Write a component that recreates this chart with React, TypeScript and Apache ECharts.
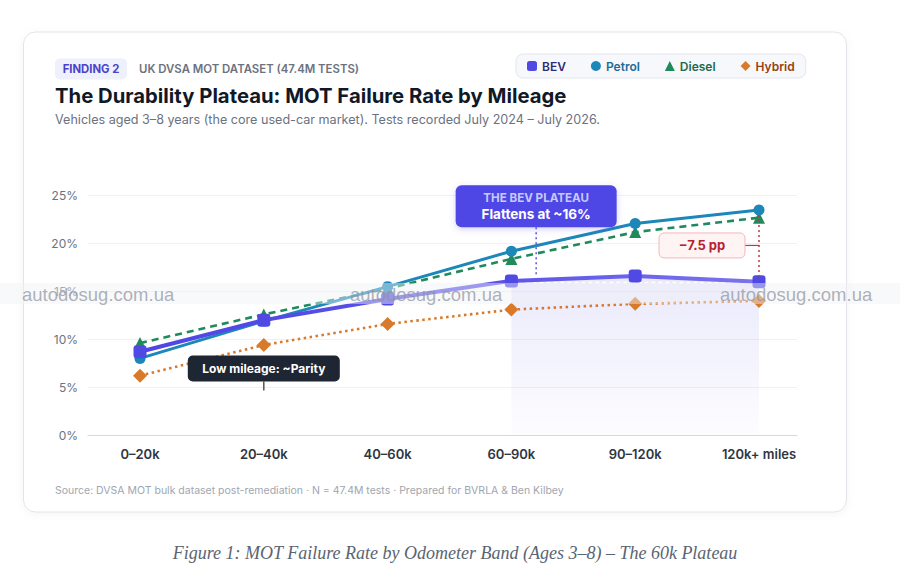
import { useEffect, useRef } from "react";
import * as echarts from "echarts";

// ---------- data ----------
const categories = ["0–20k", "20–40k", "40–60k", "60–90k", "90–120k", "120k+ miles"];
const bevRate = [8.7, 12.0, 14.2, 16.1, 16.6, 16.0];
const petrolRate = [8.0, 11.9, 15.5, 19.2, 22.1, 23.5];
const dieselRate = [9.6, 12.6, 15.3, 18.4, 21.2, 22.7];
const hybridRate = [6.2, 9.4, 11.6, 13.1, 13.7, 14.0];
const yMin = 0;
const yMax = 25;
const yStep = 5;
const plateauStartIndex = 3;
const plateauLevel = 16;
const seriesNames = ["BEV", "Petrol", "Diesel", "Hybrid"];

const FONT = "Inter, 'Noto Sans', sans-serif";

function baseOption(): any {
  const plateauData = bevRate.map((v, i) => (i >= plateauStartIndex ? v : null));
  return {
    animation: false,
    backgroundColor: "#ffffff",
    textStyle: { fontFamily: FONT },
    legend: {
      left: 516,
      top: 54,
      orient: "horizontal",
      selectedMode: false,
      padding: [6, 11, 6, 11],
      itemWidth: 10,
      itemHeight: 10,
      itemGap: 25,
      backgroundColor: "#f7f8fb",
      borderColor: "#e4e6ee",
      borderWidth: 1,
      borderRadius: 7,
      textStyle: { fontFamily: FONT, fontSize: 12, fontWeight: 600 },
      data: [
        { name: seriesNames[0], icon: "roundRect", textStyle: { color: "#2f2a78" } },
        { name: seriesNames[1], icon: "circle", textStyle: { color: "#1d6b98" } },
        { name: seriesNames[2], icon: "triangle", textStyle: { color: "#1d6a4a" } },
        { name: seriesNames[3], icon: "diamond", textStyle: { color: "#983f14" } },
      ],
    },
    grid: [
      { left: 88, right: 103, top: 195.7, bottom: 147 },
      { left: 140, right: 141, top: 195.7, bottom: 147 },
    ],
    xAxis: [
      {
        gridIndex: 0,
        type: "category",
        data: categories,
        axisLine: { show: true, lineStyle: { color: "#d6d9df", width: 1.2 } },
        axisTick: { show: false },
        axisLabel: { show: false },
        splitLine: { show: false },
      },
      {
        gridIndex: 1,
        type: "category",
        data: categories,
        boundaryGap: false,
        axisLine: { show: false },
        axisTick: { show: false },
        splitLine: { show: false },
        axisLabel: {
          color: "#30363f",
          fontSize: 13,
          fontWeight: 600,
          fontFamily: FONT,
          margin: 12,
        },
      },
    ],
    yAxis: [
      {
        gridIndex: 0,
        type: "value",
        min: yMin,
        max: yMax,
        interval: yStep,
        axisLine: { show: false },
        axisTick: { show: false },
        axisLabel: {
          formatter: "{value}%",
          color: "#6b7280",
          fontSize: 12,
          fontFamily: FONT,
          margin: 10,
        },
        splitLine: { lineStyle: { color: "#f0f1f4", width: 1 } },
      },
      {
        gridIndex: 1,
        type: "value",
        min: yMin,
        max: yMax,
        interval: yStep,
        show: false,
        splitLine: { show: false },
      },
    ],
    series: [
      {
        name: "_plateau",
        type: "line",
        xAxisIndex: 1,
        yAxisIndex: 1,
        data: plateauData,
        symbol: "none",
        silent: true,
        z: 1,
        lineStyle: { width: 0, opacity: 0 },
        areaStyle: {
          origin: "start",
          color: new echarts.graphic.LinearGradient(0, 0, 0, 1, [
            { offset: 0, color: "rgba(99,91,230,0.19)" },
            { offset: 1, color: "rgba(99,91,230,0.02)" },
          ]),
        },
        markLine: {
          silent: true,
          symbol: "none",
          label: { show: false },
          lineStyle: { color: "#ffffff", width: 1.4, type: [4, 3], opacity: 0.95 },
          data: [
            [
              { coord: [plateauStartIndex, plateauLevel] },
              { coord: [categories.length - 1, plateauLevel] },
            ],
          ],
        },
      },
      {
        name: seriesNames[3],
        type: "line",
        xAxisIndex: 1,
        yAxisIndex: 1,
        data: hybridRate,
        symbol: "diamond",
        symbolSize: 14,
        z: 3,
        itemStyle: { color: "#d97a2b" },
        lineStyle: { color: "#d97a2b", width: 2.6, type: [2.5, 3.5] },
      },
      {
        name: seriesNames[2],
        type: "line",
        xAxisIndex: 1,
        yAxisIndex: 1,
        data: dieselRate,
        symbol: "triangle",
        symbolSize: 12,
        z: 4,
        itemStyle: { color: "#1f8a5b" },
        lineStyle: { color: "#1f8a5b", width: 2.6, type: [7, 5] },
      },
      {
        name: seriesNames[1],
        type: "line",
        xAxisIndex: 1,
        yAxisIndex: 1,
        data: petrolRate,
        symbol: "circle",
        symbolSize: 11,
        z: 5,
        itemStyle: { color: "#1d87b9" },
        lineStyle: { color: "#1d87b9", width: 3 },
      },
      {
        name: seriesNames[0],
        type: "line",
        xAxisIndex: 1,
        yAxisIndex: 1,
        data: bevRate,
        symbol: "roundRect",
        symbolSize: 13,
        z: 6,
        itemStyle: { color: "#5149e4" },
        lineStyle: {
          width: 4,
          color: new echarts.graphic.LinearGradient(0, 0, 1, 0, [
            { offset: 0, color: "#4f46e5" },
            { offset: 0.55, color: "#5a52e8" },
            { offset: 1, color: "#7c73ee" },
          ]),
        },
      },
    ],
  };
}

function txt(x: number, y: number, text: string, font: string, fill: string, align = "left", z = 20): any {
  return {
    type: "text",
    x,
    y,
    z,
    silent: true,
    style: {
      text,
      font,
      fill,
      textAlign: align,
      textVerticalAlign: "middle",
      align,
      verticalAlign: "middle",
    },
  };
}

function graphics(px: (i: number, v: number) => number[]): any[] {
  const els: any[] = [];
  // card
  els.push({
    type: "rect",
    z: -10,
    silent: true,
    shape: { x: 23.5, y: 32, width: 823, height: 480, r: 12 },
    style: {
      fill: "#ffffff",
      stroke: "#e2e4e9",
      lineWidth: 1,
      shadowBlur: 8,
      shadowColor: "rgba(0,0,0,0.04)",
      shadowOffsetY: 2,
    },
  });
  // badge
  els.push({
    type: "rect",
    z: 10,
    silent: true,
    shape: { x: 55, y: 58.5, width: 72, height: 21, r: 5 },
    style: { fill: "#eef0fb" },
  });
  els.push(txt(91, 69, "FINDING 2", `700 11.3px ${FONT}`, "#4a43c9", "center"));
  els.push(txt(139, 69, "UK DVSA MOT DATASET (47.4M TESTS)", `600 11.4px ${FONT}`, "#6b7280"));
  els.push(
    txt(55, 95, "The Durability Plateau: MOT Failure Rate by Mileage", `700 20.3px ${FONT}`, "#111827")
  );
  els.push(
    txt(
      55,
      119,
      "Vehicles aged 3–8 years (the core used-car market). Tests recorded July 2024 – July 2026.",
      `400 12.6px ${FONT}`,
      "#6b7280"
    )
  );
  els.push(
    txt(
      55,
      490,
      "Source: DVSA MOT bulk dataset post-remediation · N = 47.4M tests · Prepared for BVRLA & Ben Kilbey",
      `400 10.5px ${FONT}`,
      "#a0a6b0"
    )
  );
  els.push(
    txt(
      455,
      553,
      "Figure 1: MOT Failure Rate by Odometer Band (Ages 3–8) – The 60k Plateau",
      "italic 18px 'Liberation Serif', 'DejaVu Serif', serif",
      "#5a6472",
      "center"
    )
  );

  // BEV plateau callout
  const p3 = px(plateauStartIndex, plateauLevel);
  const p4 = px(plateauStartIndex + 1, plateauLevel);
  const lineX = p3[0] + (p4[0] - p3[0]) * 0.2;
  const boxBottom = px(0, 21.7)[1];
  const boxW = 161;
  const boxH = 42;
  els.push({
    type: "line",
    z: 30,
    silent: true,
    shape: { x1: lineX, y1: boxBottom, x2: lineX, y2: px(0, 16.8)[1] },
    style: { stroke: "#5b53e0", lineWidth: 1.5, lineDash: [2, 3] },
  });
  els.push({
    type: "rect",
    z: 31,
    silent: true,
    shape: { x: lineX - boxW / 2, y: boxBottom - boxH, width: boxW, height: boxH, r: 6 },
    style: { fill: "#4f46e5", shadowBlur: 6, shadowColor: "rgba(79,70,229,0.25)", shadowOffsetY: 2 },
  });
  els.push(txt(lineX, boxBottom - boxH + 13, "THE BEV PLATEAU", `700 11.6px ${FONT}`, "#c5cafc", "center", 32));
  els.push(txt(lineX, boxBottom - boxH + 29, "Flattens at ~16%", `700 13.5px ${FONT}`, "#ffffff", "center", 32));

  // gap callout at last band
  const last = categories.length - 1;
  const pTop = px(last, petrolRate[last]);
  const pBot = px(last, bevRate[last]);
  els.push({
    type: "line",
    z: 30,
    silent: true,
    shape: { x1: pTop[0], y1: pTop[1] + 5, x2: pBot[0], y2: pBot[1] - 5 },
    style: { stroke: "#c0364a", lineWidth: 1.5, lineDash: [2, 3] },
  });
  const midY = (pTop[1] + pBot[1]) / 2 - 0.5;
  const gBoxW = 86;
  const gBoxH = 25;
  const gBoxRight = pTop[0] - 14;
  els.push({
    type: "line",
    z: 30,
    silent: true,
    shape: { x1: gBoxRight, y1: midY, x2: pTop[0], y2: midY },
    style: { stroke: "#c0364a", lineWidth: 1.2 },
  });
  els.push({
    type: "rect",
    z: 31,
    silent: true,
    shape: { x: gBoxRight - gBoxW, y: midY - gBoxH / 2, width: gBoxW, height: gBoxH, r: 5 },
    style: { fill: "#fff4f4", stroke: "#f0b8bd", lineWidth: 1 },
  });
  els.push(
    txt(gBoxRight - gBoxW / 2, midY, `−${(petrolRate[last] - bevRate[last]).toFixed(1)} pp`, `700 13px ${FONT}`, "#b42330", "center", 32)
  );

  // low mileage callout
  const pl = px(1, 8.3);
  const lW = 152;
  const lH = 26;
  els.push({
    type: "rect",
    z: 31,
    silent: true,
    shape: { x: pl[0] - lW / 2, y: pl[1], width: lW, height: lH, r: 5 },
    style: { fill: "#1e2533" },
  });
  els.push(txt(pl[0], pl[1] + lH / 2, "Low mileage: ~Parity", `700 12px ${FONT}`, "#ffffff", "center", 32));
  els.push({
    type: "line",
    z: 30,
    silent: true,
    shape: { x1: pl[0], y1: pl[1] + lH, x2: pl[0], y2: pl[1] + lH + 9 },
    style: { stroke: "#4b5563", lineWidth: 1.5 },
  });

  // watermark band
  els.push({
    type: "rect",
    z: 90,
    silent: true,
    shape: { x: 0, y: 283, width: 900, height: 21 },
    style: { fill: "rgba(240,242,247,0.45)" },
  });
  [22, 350, 720].forEach((wx) =>
    els.push(txt(wx, 294, "autodosug.com.ua", "18.5px 'Liberation Sans', Arial, sans-serif", "rgba(140,144,154,0.7)", "left", 91))
  );
  return els;
}

export default function App() {
  const ref = useRef<HTMLDivElement>(null);
  useEffect(() => {
    if (!ref.current) return;
    const chart = echarts.init(ref.current, null, { renderer: "svg" });
    chart.setOption(baseOption());
    const px = (i: number, v: number) => chart.convertToPixel({ gridIndex: 1 }, [i, v]) as number[];
    chart.setOption({ graphic: graphics(px) });
    return () => chart.dispose();
  }, []);
  return (
    <div
      ref={ref}
      style={{ position: "fixed", left: 0, top: 0, width: 900, height: 582, background: "#ffffff" }}
    />
  );
}
